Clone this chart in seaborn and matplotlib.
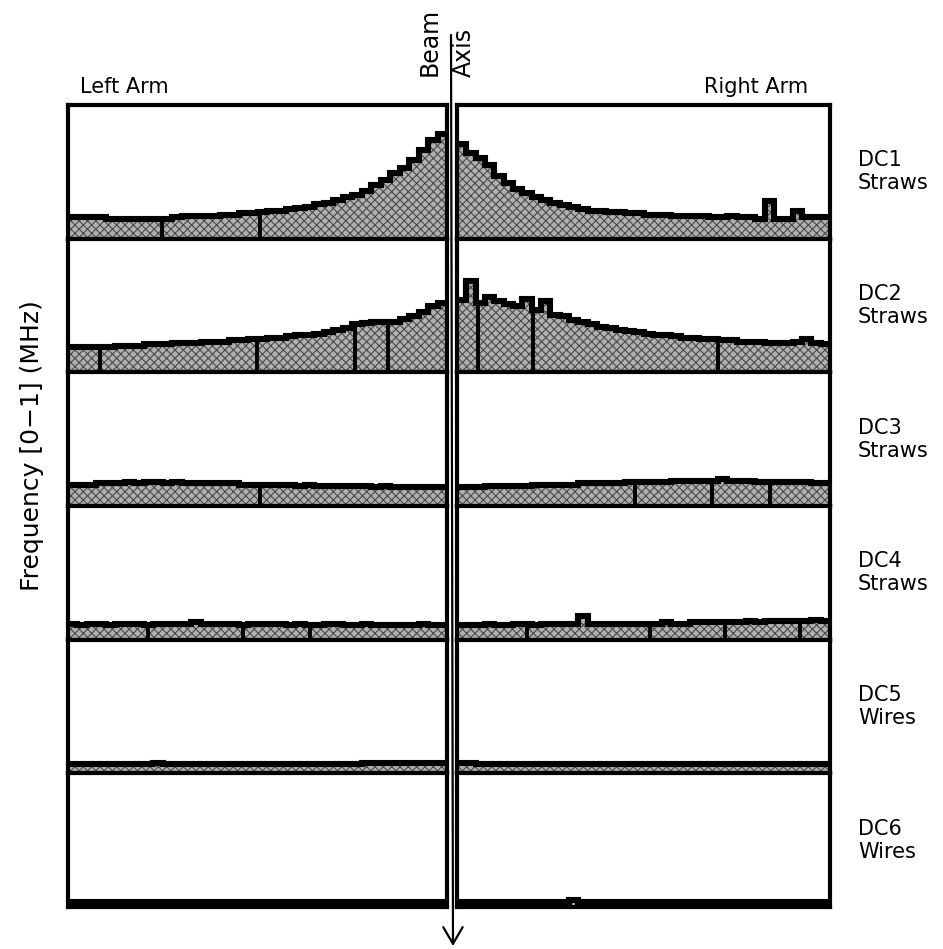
import numpy as np
import pandas as pd
import matplotlib
matplotlib.use("Agg")
import matplotlib.pyplot as plt
import seaborn as sns

# ---------------- data ----------------
detectors = ["DC1\nStraws", "DC2\nStraws", "DC3\nStraws", "DC4\nStraws", "DC5\nWires", "DC6\nWires"]
arm_titles = ["Left Arm", "Right Arm"]
y_title = "Frequency [0−1] (MHz)"
beam_words = ["Beam", "Axis"]

# relative rate (fraction of panel height), 40 bins per arm
dc1_left = [0.16, 0.16, 0.16, 0.16, 0.15, 0.15, 0.15, 0.15, 0.15, 0.15,
            0.15, 0.16, 0.17, 0.17, 0.17, 0.17, 0.18, 0.18, 0.19, 0.19,
            0.20, 0.21, 0.21, 0.22, 0.23, 0.24, 0.26, 0.27, 0.29, 0.31,
            0.33, 0.36, 0.40, 0.44, 0.49, 0.53, 0.59, 0.66, 0.74, 0.78]
dc1_right = [0.71, 0.64, 0.60, 0.55, 0.47, 0.42, 0.37, 0.34, 0.31, 0.29,
             0.27, 0.25, 0.24, 0.22, 0.21, 0.21, 0.20, 0.20, 0.19, 0.19,
             0.18, 0.18, 0.18, 0.17, 0.17, 0.17, 0.17, 0.16, 0.16, 0.17,
             0.16, 0.16, 0.15, 0.28, 0.15, 0.15, 0.21, 0.16, 0.16, 0.16]
dc2_left = [0.19, 0.19, 0.19, 0.19, 0.19, 0.20, 0.20, 0.20, 0.21, 0.21,
            0.21, 0.22, 0.22, 0.22, 0.23, 0.23, 0.23, 0.24, 0.24, 0.25,
            0.25, 0.26, 0.26, 0.27, 0.28, 0.28, 0.29, 0.30, 0.32, 0.33,
            0.36, 0.37, 0.38, 0.38, 0.38, 0.40, 0.42, 0.45, 0.50, 0.52]
dc2_right = [0.54, 0.68, 0.52, 0.56, 0.53, 0.51, 0.50, 0.55, 0.47, 0.53,
             0.43, 0.42, 0.39, 0.38, 0.36, 0.34, 0.33, 0.32, 0.31, 0.30,
             0.29, 0.28, 0.28, 0.27, 0.26, 0.26, 0.25, 0.25, 0.24, 0.24,
             0.23, 0.23, 0.23, 0.22, 0.22, 0.22, 0.23, 0.25, 0.22, 0.21]
dc3_left = [0.16, 0.16, 0.16, 0.17, 0.17, 0.17, 0.18, 0.17, 0.18, 0.18,
            0.17, 0.18, 0.17, 0.17, 0.17, 0.17, 0.17, 0.17, 0.16, 0.16,
            0.16, 0.16, 0.16, 0.16, 0.15, 0.16, 0.15, 0.15, 0.15, 0.15,
            0.15, 0.15, 0.14, 0.15, 0.14, 0.14, 0.14, 0.14, 0.14, 0.14]
dc3_right = [0.14, 0.14, 0.14, 0.15, 0.15, 0.15, 0.15, 0.15, 0.16, 0.16,
             0.16, 0.16, 0.16, 0.17, 0.17, 0.17, 0.17, 0.17, 0.18, 0.18,
             0.18, 0.18, 0.18, 0.19, 0.19, 0.19, 0.19, 0.19, 0.20, 0.19,
             0.19, 0.19, 0.18, 0.18, 0.18, 0.18, 0.18, 0.18, 0.17, 0.17]
dc4_left = [0.12, 0.11, 0.12, 0.12, 0.11, 0.12, 0.12, 0.12, 0.11, 0.12,
            0.12, 0.12, 0.12, 0.13, 0.12, 0.12, 0.12, 0.12, 0.11, 0.12,
            0.12, 0.12, 0.12, 0.11, 0.12, 0.11, 0.11, 0.12, 0.12, 0.11,
            0.11, 0.12, 0.11, 0.11, 0.11, 0.11, 0.11, 0.12, 0.11, 0.11]
dc4_right = [0.11, 0.11, 0.11, 0.12, 0.11, 0.11, 0.12, 0.12, 0.11, 0.12,
             0.12, 0.12, 0.12, 0.18, 0.12, 0.12, 0.12, 0.12, 0.12, 0.12,
             0.12, 0.12, 0.13, 0.12, 0.12, 0.13, 0.13, 0.13, 0.13, 0.13,
             0.13, 0.14, 0.13, 0.14, 0.14, 0.14, 0.14, 0.14, 0.15, 0.14]
dc5_left = [0.07, 0.07, 0.07, 0.07, 0.07, 0.07, 0.07, 0.07, 0.07, 0.08,
            0.07, 0.07, 0.07, 0.07, 0.07, 0.07, 0.07, 0.07, 0.07, 0.07,
            0.07, 0.07, 0.07, 0.07, 0.07, 0.07, 0.07, 0.07, 0.07, 0.07,
            0.07, 0.08, 0.08, 0.08, 0.08, 0.08, 0.08, 0.08, 0.08, 0.08]
dc5_right = [0.08, 0.08, 0.07, 0.07, 0.07, 0.07, 0.07, 0.07, 0.07, 0.07,
             0.07, 0.07, 0.07, 0.07, 0.07, 0.07, 0.07, 0.07, 0.07, 0.07,
             0.07, 0.07, 0.07, 0.07, 0.07, 0.07, 0.07, 0.07, 0.07, 0.07,
             0.07, 0.07, 0.07, 0.07, 0.07, 0.07, 0.07, 0.07, 0.07, 0.07]
dc6_left = [0.04, 0.04, 0.04, 0.04, 0.04, 0.04, 0.04, 0.04, 0.04, 0.04,
            0.04, 0.04, 0.04, 0.04, 0.04, 0.04, 0.04, 0.04, 0.04, 0.04,
            0.04, 0.04, 0.04, 0.04, 0.04, 0.04, 0.04, 0.04, 0.04, 0.04,
            0.04, 0.04, 0.04, 0.04, 0.04, 0.04, 0.04, 0.04, 0.04, 0.04]
dc6_right = [0.04, 0.04, 0.04, 0.04, 0.04, 0.04, 0.04, 0.04, 0.04, 0.04,
             0.04, 0.04, 0.05, 0.04, 0.04, 0.04, 0.04, 0.04, 0.04, 0.04,
             0.04, 0.04, 0.04, 0.04, 0.04, 0.04, 0.04, 0.04, 0.04, 0.04,
             0.04, 0.04, 0.04, 0.04, 0.04, 0.04, 0.04, 0.04, 0.04, 0.04]

# positions of dead / missing channels (fraction along the arm)
dc1_left_gaps = [0.248, 0.507]
dc1_right_gaps = []
dc2_left_gaps = [0.084, 0.499, 0.757, 0.844]
dc2_right_gaps = [0.056, 0.204, 0.700]
dc3_left_gaps = [0.507]
dc3_right_gaps = [0.477, 0.684, 0.839]
dc4_left_gaps = [0.211, 0.462, 0.638]
dc4_right_gaps = [0.188, 0.517, 0.718, 0.920]
dc5_left_gaps = []
dc5_right_gaps = []
dc6_left_gaps = []
dc6_right_gaps = []

rows = [
    (dc1_left, dc1_left_gaps, dc1_right, dc1_right_gaps),
    (dc2_left, dc2_left_gaps, dc2_right, dc2_right_gaps),
    (dc3_left, dc3_left_gaps, dc3_right, dc3_right_gaps),
    (dc4_left, dc4_left_gaps, dc4_right, dc4_right_gaps),
    (dc5_left, dc5_left_gaps, dc5_right, dc5_right_gaps),
    (dc6_left, dc6_left_gaps, dc6_right, dc6_right_gaps),
]

# ---------------- style ----------------
sns.set_style("white")
plt.rcParams["font.family"] = ["DejaVu Sans"]
plt.rcParams["text.color"] = "black"
plt.rcParams["hatch.linewidth"] = 0.8

W, H = 943, 949
fig = plt.figure(figsize=(W / 100, H / 100), dpi=100)

LEFT_X0, LEFT_X1 = 68, 447
RIGHT_X0, RIGHT_X1 = 457, 830
TOP, BOTTOM = 105, 907
row_h = (BOTTOM - TOP) / 6


def draw_panel(ax, vals, gaps):
    n = len(vals)
    centers = (np.arange(n) + 0.5) / n
    df = pd.DataFrame({"pos": centers, "freq": np.asarray(vals, dtype=float)})
    sns.histplot(data=df, x="pos", weights="freq", bins=n, binrange=(0, 1),
                 element="step", fill=True, color="#b0b0b0", alpha=1,
                 linewidth=0, ax=ax)
    for coll in ax.collections:
        coll.set_edgecolor("#4a4a4a")
        coll.set_linewidth(0)
        coll.set_hatch("xxxx")
    sns.histplot(data=df, x="pos", weights="freq", bins=n, binrange=(0, 1),
                 element="step", fill=False, color="black", linewidth=4.4,
                 solid_joinstyle="miter", solid_capstyle="butt", ax=ax)
    for g in gaps:
        idx = min(int(g * n), n - 1)
        ax.vlines(g, 0, vals[idx], color="black", lw=2.8)
    ax.set_xlim(0, 1)
    ax.set_ylim(0, 1)
    ax.set_xticks([])
    ax.set_yticks([])
    ax.set_xlabel("")
    ax.set_ylabel("")
    for s in ax.spines.values():
        s.set_visible(True)
        s.set_linewidth(3)
        s.set_color("black")


for k, (lv, lg, rv, rg) in enumerate(rows):
    top = TOP + k * row_h
    y0 = 1 - (top + row_h) / H
    axl = fig.add_axes([LEFT_X0 / W, y0, (LEFT_X1 - LEFT_X0) / W, row_h / H])
    axr = fig.add_axes([RIGHT_X0 / W, y0, (RIGHT_X1 - RIGHT_X0) / W, row_h / H])
    draw_panel(axl, lv, lg)
    draw_panel(axr, rv, rg)
    fig.text(858 / W, 1 - (top + row_h / 2) / H, detectors[k], ha="left", va="center",
             fontsize=15, linespacing=1.2)

# overlay for beam axis and titles
ov = fig.add_axes([0, 0, 1, 1], zorder=10)
ov.set_xlim(0, W)
ov.set_ylim(H, 0)
ov.axis("off")
ov.patch.set_alpha(0)
ov.annotate("", xy=(453, 946), xytext=(451, 35),
            arrowprops=dict(arrowstyle="->,head_length=0.6,head_width=0.35",
                            lw=1.6, color="black", mutation_scale=20,
                            shrinkA=0, shrinkB=0))
ov.text(430, 76, beam_words[0], rotation=90, ha="center", va="bottom", fontsize=17)
ov.text(464, 77, beam_words[1], rotation=90, ha="center", va="bottom", fontsize=17)
ov.text(80, 93, arm_titles[0], ha="left", va="baseline", fontsize=15)
ov.text(808, 93, arm_titles[1], ha="right", va="baseline", fontsize=15)
ov.text(32, 446, y_title, rotation=90, ha="center", va="center", fontsize=18)

fig.savefig("out.png", dpi=100)
